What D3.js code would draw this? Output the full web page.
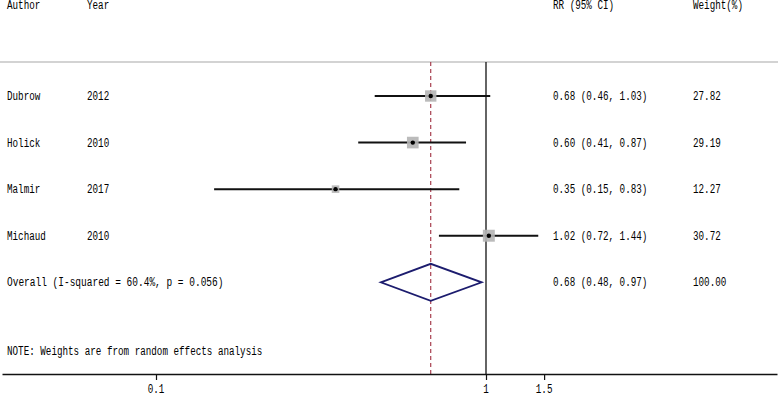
<!DOCTYPE html>
<html>
<head>
<meta charset="utf-8">
<script src="https://cdn.jsdelivr.net/npm/d3@7"></script>
<style>
  html, body { margin: 0; padding: 0; background: #fff; }
  svg { display: block; }
  text { font-family: "Liberation Mono", "DejaVu Sans Mono", monospace; font-size: 12px; fill: #000; }
</style>
</head>
<body>
<svg id="chart" width="778" height="396"></svg>
<script>
// ---- data ----
const authors = ["Dubrow", "Holick", "Malmir", "Michaud"];
const years = ["2012", "2010", "2017", "2010"];
const rr = [0.68, 0.60, 0.35, 1.02];
const lo = [0.46, 0.41, 0.15, 0.72];
const hi = [1.03, 0.87, 0.83, 1.44];
const weights = [27.82, 29.19, 12.27, 30.72];
const overallLabel = "Overall";
const overallStats = "(I-squared = 60.4%, p = 0.056)";
const overallRR = [0.68, 0.48, 0.97]; // estimate, lower, upper
const overallWeight = 100.00;
const headers = ["Author", "Year", "RR (95% CI)", "Weight(%)"];
const note = "NOTE: Weights are from random effects analysis";
const tickValues = [0.1, 1, 1.5];

// ---- layout ----
const W = 778, H = 396;
const CW = 5.55; // char advance (monospace look)
const svg = d3.select("#chart");

const xBase = d3.scaleLog().domain([0.1, 1]).range([156, 486]);
const x = d3.scaleLog().domain([xBase.invert(2), xBase.invert(777)]).range([2, 777]);
const rowIdx = d3.range(authors.length + 1);
const y = d3.scalePoint().domain(rowIdx).range([96, 282.3]);
const sq = d3.scaleSqrt().domain([0, 31]).range([0, 12]);

const topY = 62, axisY = 374;
const colAuthor = 7, colYear = 87, colCI = 553, colW = 693;

function txt(s, tx, ty, anchor) {
  const t = svg.append("text")
    .attr("x", tx).attr("y", ty)
    .attr("dominant-baseline", "central")
    .attr("text-anchor", anchor || "start")
    .text(s);
  const n = s.length;
  if (n > 0) t.attr("textLength", n * CW).attr("lengthAdjust", "spacingAndGlyphs");
  return t;
}
const f2 = d3.format(".2f");

// header
txt(headers[0], colAuthor, 6);
txt(headers[1], colYear, 6);
txt(headers[2], colCI, 6);
txt(headers[3], colW, 6);

// header rule
svg.append("line").attr("x1", 0).attr("x2", W).attr("y1", topY).attr("y2", topY)
  .attr("stroke", "#c4c4c4").attr("stroke-width", 1.5);

// null line at 1
svg.append("line").attr("x1", x(1)).attr("x2", x(1)).attr("y1", topY).attr("y2", axisY)
  .attr("stroke", "#111").attr("stroke-width", 1.3);

// overall dashed line
svg.append("line").attr("x1", x(overallRR[0])).attr("x2", x(overallRR[0]))
  .attr("y1", topY).attr("y2", axisY)
  .attr("stroke", "#a03040").attr("stroke-width", 1.1).attr("stroke-dasharray", "4,3");

// studies
authors.forEach((a, i) => {
  const yy = y(i);
  svg.append("line").attr("x1", x(lo[i])).attr("x2", x(hi[i])).attr("y1", yy).attr("y2", yy)
    .attr("stroke", "#111").attr("stroke-width", 2);
  const s = sq(weights[i]);
  svg.append("rect").attr("x", x(rr[i]) - s / 2).attr("y", yy - s / 2)
    .attr("width", s).attr("height", s).attr("fill", "#b4b4b4").attr("opacity", 0.9);
  svg.append("circle")
    .attr("cx", x(rr[i])).attr("cy", yy).attr("r", 2.2)
    .attr("fill", "#000");
  txt(a, colAuthor, yy + 1);
  txt(years[i], colYear, yy + 1);
  txt(`${f2(rr[i])} (${f2(lo[i])}, ${f2(hi[i])})`, colCI, yy + 1);
  txt(f2(weights[i]), colW, yy + 1);
});

// overall diamond
const oy = y(authors.length);
const dh = 18.5;
svg.append("path")
  .attr("d", `M${x(overallRR[1])},${oy} L${x(overallRR[0])},${oy - dh} L${x(overallRR[2])},${oy} L${x(overallRR[0])},${oy + dh} Z`)
  .attr("fill", "none").attr("stroke", "#1c1c6e").attr("stroke-width", 1.8);
txt(overallLabel + "  " + overallStats, colAuthor, oy + 1);
txt(`${f2(overallRR[0])} (${f2(overallRR[1])}, ${f2(overallRR[2])})`, colCI, oy + 1);
txt(f2(overallWeight), colW, oy + 1);

// note
txt(note, colAuthor, 352);

// x axis
const axis = d3.axisBottom(x).tickValues(tickValues).tickSize(6).tickSizeOuter(0)
  .tickFormat(d => String(d));
const g = svg.append("g").attr("transform", `translate(0,${axisY})`).call(axis);
g.select(".domain").attr("stroke", "#111").attr("stroke-width", 1.3);
g.selectAll(".tick line").attr("stroke", "#111").attr("stroke-width", 1.2);
g.selectAll(".tick text").remove();
tickValues.forEach(v => {
  txt(String(v), x(v), 389.5, "middle");
});
</script>
</body>
</html>
